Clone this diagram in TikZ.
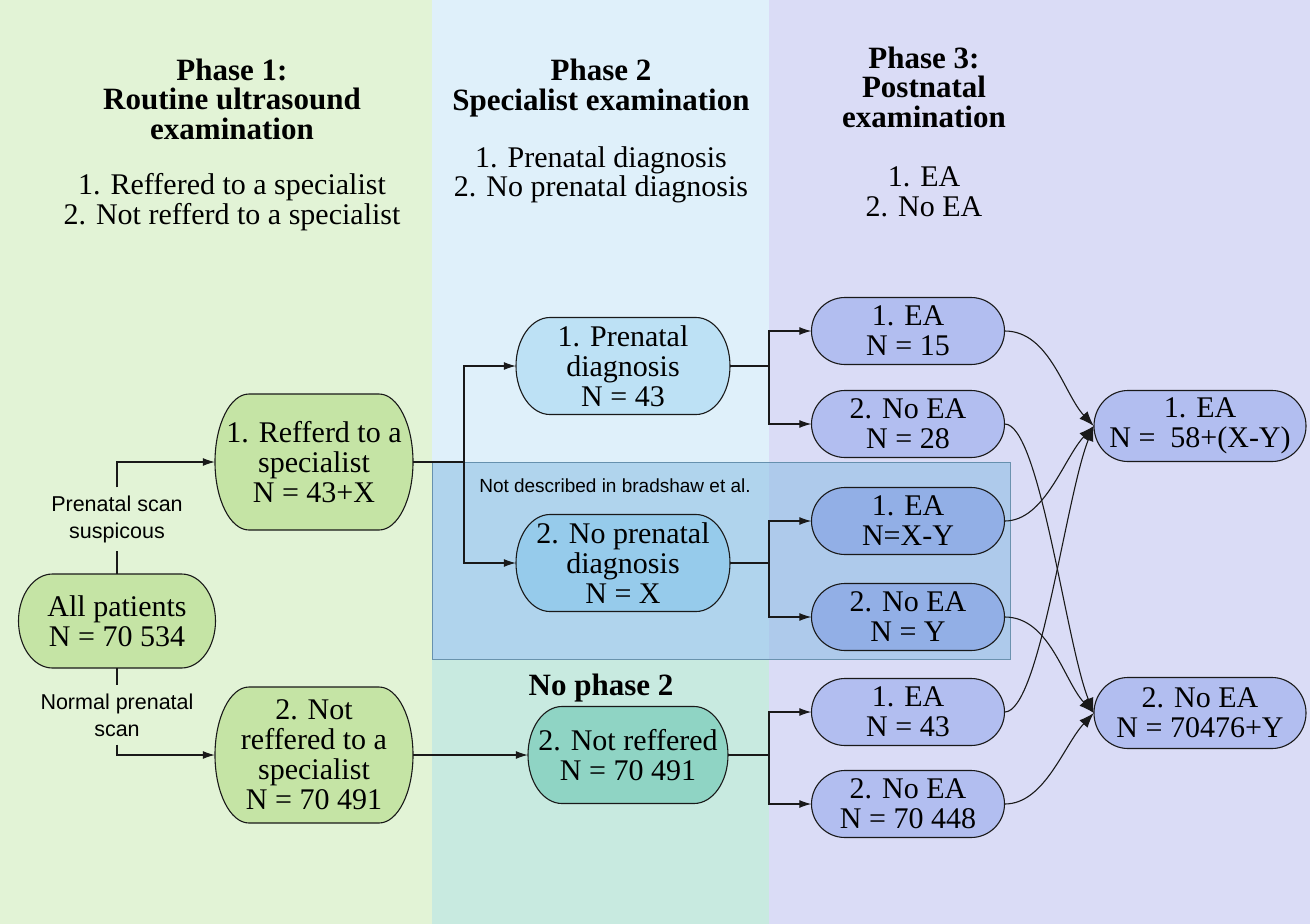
\documentclass[tikz,border=0pt]{standalone}
\usepackage{fontspec}
\setmainfont{Liberation Serif}
\newfontfamily\labfont{Liberation Sans}
\usetikzlibrary{arrows.meta}
\definecolor{bgA}{HTML}{E2F3D6}
\definecolor{bgB}{HTML}{DFF0FA}
\definecolor{bgC}{HTML}{DADCF6}
\definecolor{bgT}{HTML}{C8EAE0}
\definecolor{boxfill}{HTML}{83BAE1}
\definecolor{boxline}{HTML}{5F8AA8}
\definecolor{nGreen}{HTML}{C5E4A5}
\definecolor{nPre}{HTML}{BDE1F5}
\definecolor{nNoPre}{HTML}{96CBEB}
\definecolor{nTeal}{HTML}{8FD4C4}
\definecolor{nLav}{HTML}{B2BEF0}
\definecolor{nLavBox}{HTML}{92AFE6}
\newcommand\mypill[7]{%
  \pgfmathsetmacro\pxl{#3-#5/2}%
  \pgfmathsetmacro\pxr{#3+#5/2}%
  \pgfmathsetmacro\pyt{#4-#6/2}%
  \pgfmathsetmacro\pyb{#4+#6/2}%
  \pgfmathsetmacro\phh{#6/2}%
  \pgfmathsetmacro\prr{min(34,#6/2)}%
  \draw[#2] (\pxl+\prr,\pyt) -- (\pxr-\prr,\pyt)
    arc[start angle=90,end angle=-90,x radius=\prr pt,y radius=\phh pt]
    -- (\pxl+\prr,\pyb)
    arc[start angle=270,end angle=90,x radius=\prr pt,y radius=\phh pt] -- cycle;
  \node[pilltext, minimum width=#5pt, minimum height=#6pt] (#1) at (#3,#4) {#7};
}
\tikzset{
  conn/.style={line width=1.1pt, draw=black!90},
  arr/.style={conn, -{Latex[length=12pt,width=8pt]}},
  arrbig/.style={conn, -{Latex[length=15pt,width=11pt]}},
  pilltext/.style={font=\fontsize{30}{30}\selectfont, align=center, inner sep=0pt},
  head/.style={font=\bfseries\fontsize{31}{29.5}\selectfont, align=center, inner sep=0pt},
  desc/.style={font=\fontsize{30}{29.5}\selectfont, align=center, inner sep=0pt},
  lab/.style={font=\labfont\fontsize{21.5}{27}\selectfont, align=center, inner xsep=2pt, inner ysep=8pt},
  pillbase/.style={draw=black!90, line width=1.1pt},
  greenpill/.style={pillbase, fill=nGreen},
  prepill/.style={pillbase, fill=nPre},
  noprepill/.style={pillbase, fill=nNoPre},
  tealpill/.style={pillbase, fill=nTeal},
  lavpill/.style={pillbase, fill=nLav},
  lavboxpill/.style={pillbase, fill=nLavBox},
  notebox/.style={fill=boxfill, fill opacity=0.5, draw=boxline, line width=1pt, draw opacity=0.9},
}
\begin{document}
\begin{tikzpicture}[x=1pt,y=-1pt]
\useasboundingbox (0,0) rectangle (1310,924);
% column backgrounds
\fill[bgA] (0,0) rectangle (432,924);
\fill[bgB] (432,0) rectangle (769,924);
\fill[bgT] (432,659) rectangle (769,924);
\fill[bgC] (769,0) rectangle (1310,924);
% not described box
\draw[notebox] (432,462) rectangle (1010,659);
\node[font=\labfont\fontsize{19}{22}\selectfont, inner sep=0pt] (nd) at (615,486) {Not described in bradshaw et al.};
% headings
\node[head] (h1) at (232,99) {Phase 1:\\Routine ultrasound\\examination};
\node[desc] (d1) at (232,202) {1. Reffered to a specialist\\2. Not refferd to a specialist};
\node[head] (h2) at (601,88) {Phase 2\\Specialist examination};
\node[desc] (d2) at (601,175) {1. Prenatal diagnosis\\2. No prenatal diagnosis};
\node[head] (h3) at (924,87) {Phase 3:\\Postnatal\\examination};
\node[desc] (d3) at (924,192) {1. EA\\2. No EA};
\node[head] (np2) at (601,688) {No phase 2};
% nodes
\mypill{allp}{greenpill}{117}{621}{197}{94}{All patients\\N = 70 534}
\mypill{ref}{greenpill}{314}{462}{198}{136}{1. Refferd to a\\specialist\\N = 43+X}
\mypill{notref}{greenpill}{314}{755}{198}{136}{2. Not\\reffered to a\\specialist\\N = 70 491}
\mypill{pre}{prepill}{623}{366}{214}{97}{1. Prenatal\\diagnosis\\N = 43}
\mypill{nopre}{noprepill}{623}{563}{214}{97}{2. No prenatal\\diagnosis\\N = X}
\mypill{notrefb}{tealpill}{628}{755}{200}{97}{2. Not reffered\\N = 70 491}
\mypill{ea15}{lavpill}{908}{331}{193}{67}{1. EA\\N = 15}
\mypill{nea28}{lavpill}{908}{424}{193}{67}{2. No EA\\N = 28}
\mypill{eaxy}{lavboxpill}{908}{521}{193}{67}{1. EA\\N=X-Y}
\mypill{neay}{lavboxpill}{908}{617}{193}{67}{2. No EA\\N = Y}
\mypill{ea43}{lavpill}{908}{712}{193}{67}{1. EA\\N = 43}
\mypill{nea448}{lavpill}{908}{804}{193}{67}{2. No EA\\N = 70 448}
\mypill{fea}{lavpill}{1200}{426}{212}{71}{1. EA\\N =\ \ 58+(X-Y)}
\mypill{fnea}{lavpill}{1200}{713}{212}{71}{2. No EA\\N = 70476+Y}
% phase 1 labels and connectors
\node[lab] (lsus) at (117,519) {Prenatal scan\\suspicous};
\node[lab] (lnorm) at (117,715) {Normal prenatal\\scan};
\draw[conn] (allp.north) -- (lsus.south);
\draw[arr] (lsus.north) |- (ref.west);
\draw[conn] (allp.south) -- (lnorm.north);
\draw[arr] (lnorm.south) |- (notref.west);
% phase 1 -> phase 2
\coordinate (b1) at (464,462);
\draw[conn] (ref.east) -- (b1);
\draw[arr] (b1) |- (pre.west);
\draw[arr] (b1) |- (nopre.west);
\draw[arr] (notref.east) -- (notrefb.west);
% phase 2 -> phase 3
\coordinate (b2) at (769,366);
\coordinate (b3) at (769,563);
\coordinate (b4) at (769,755);
\draw[conn] (pre.east) -- (b2);
\draw[arr] (b2) |- (ea15.west);
\draw[arr] (b2) |- (nea28.west);
\draw[conn] (nopre.east) -- (b3);
\draw[arr] (b3) |- (eaxy.west);
\draw[arr] (b3) |- (neay.west);
\draw[conn] (notrefb.east) -- (b4);
\draw[arr] (b4) |- (ea43.west);
\draw[arr] (b4) |- (nea448.west);
% phase 3 -> totals
\draw[arrbig] (ea15.east) .. controls +(45,0) and +(-30,-32) .. (fea.west);
\draw[arrbig] (eaxy.east) .. controls +(40,0) and +(-30,32) .. (fea.west);
\draw[arrbig] (ea43.east) .. controls +(35,0) and +(-28,70) .. (fea.west);
\draw[arrbig] (nea28.east) .. controls +(35,0) and +(-28,-70) .. (fnea.west);
\draw[arrbig] (neay.east) .. controls +(45,0) and +(-30,-32) .. (fnea.west);
\draw[arrbig] (nea448.east) .. controls +(40,0) and +(-30,32) .. (fnea.west);
\end{tikzpicture}
\end{document}
